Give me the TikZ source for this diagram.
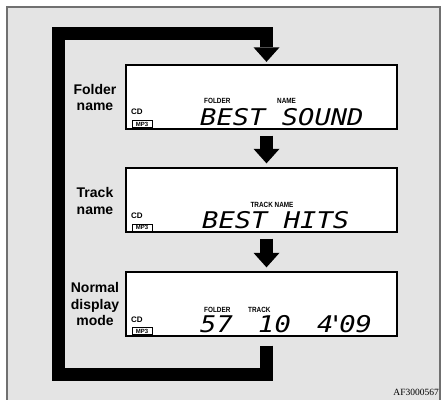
\documentclass[tikz,border=0pt]{standalone}
\usepackage{fontspec}
\setmainfont{Liberation Sans}
\newfontfamily\lcdfont{DejaVu Sans Mono}
\newfontfamily\codefont{Liberation Serif}
\usetikzlibrary{arrows.meta,calc}
\definecolor{bgc}{RGB}{228,228,228}
\definecolor{framec}{RGB}{112,112,112}
\begin{document}
\begin{tikzpicture}[x=1pt,y=-1pt,
  lcdbox/.style={draw=black, line width=1.3pt, fill=white, minimum width=271pt, minimum height=64pt, inner sep=0pt},
  flow/.style={line width=13pt, draw=black, line join=miter, -{Triangle[length=14.5pt,width=26pt,line width=0pt]}},
  modelabel/.style={font=\fontsize{14}{16.8}\selectfont\bfseries, align=center, inner sep=0pt},
  tag/.style={font=\fontsize{7.5}{8}\selectfont\bfseries, inner sep=0pt, anchor=base west},
  cdtag/.style={font=\fontsize{8}{9}\selectfont\bfseries, inner sep=0pt, anchor=base west},
  mpbox/.style={draw=black, line width=0.8pt, fill=white, font=\fontsize{6}{6}\selectfont\bfseries, inner sep=0pt, minimum width=20pt, minimum height=7pt},
  lcd/.style={font=\lcdfont\itshape\fontsize{23}{24}\selectfont, inner sep=0pt, anchor=base west},
]
\useasboundingbox (0,0) rectangle (441,399);
\fill[white] (0,0) rectangle (441,399);
\begin{scope}
  \clip (0,0) rectangle (441,399);
  \draw[framec, line width=1.5pt, fill=bgc] (7,7) rectangle (440,410);
\end{scope}

% display boxes
\node[lcdbox] (b1) at (261.5,97) {};
\node[lcdbox] (b2) at (261.5,200) {};
\node[lcdbox] (b3) at (261.5,304) {};

% helper coordinates
\coordinate (sx) at (266.5,0);
\coordinate (cbr) at (266.5,374);
\coordinate (cbl) at (58,374);
\coordinate (ctl) at (58,33.5);
\coordinate (ctr) at (266.5,33.5);

% arrows
\draw[flow] ($(b1.south -| sx)+(0,6)$) -- ($(b2.north -| sx)+(0,-4)$);
\draw[flow] ($(b2.south -| sx)+(0,6)$) -- ($(b3.north -| sx)+(0,-4)$);
\draw[flow] ($(b3.south -| sx)+(0,9)$) -- (cbr) -- (cbl) -- (ctl) -- (ctr) -- ($(b1.north -| sx)+(0,-2.5)$);

% mode labels
\node[modelabel] (l1) at (95,97.5) {Folder\\name};
\node[modelabel] (l2) at (95,201) {Track\\name};
\node[modelabel] (l3) at (95,304) {Normal\\display\\mode};

% CD / MP3
\node[cdtag] (cd1) at (131,114) {CD};
\node[cdtag] (cd2) at (131,218) {CD};
\node[cdtag] (cd3) at (131,322) {CD};
\node[mpbox] (mp1) at (142,124) {MP3};
\node[mpbox] (mp2) at (142,227.5) {MP3};
\node[mpbox] (mp3) at (142,331) {MP3};

% box 1
\node[tag] (t1a) at (204,103) {\scalebox{0.85}[1]{FOLDER}};
\node[tag] (t1b) at (277,103) {\scalebox{0.85}[1]{NAME}};
\node[lcd] (d1) at (200,125) {\scalebox{1.18}[1]{BEST SOUND}};

% box 2
\node[tag, anchor=base] (t2a) at (272,207) {\scalebox{0.85}[1]{TRACK NAME}};
\node[lcd] (d2) at (202,228) {\scalebox{1.18}[1]{BEST HITS}};

% box 3
\node[tag] (t3a) at (204,312) {\scalebox{0.85}[1]{FOLDER}};
\node[tag] (t3b) at (248,312) {\scalebox{0.85}[1]{TRACK}};
\node[lcd] (d3a) at (200,332) {\scalebox{1.18}[1]{57}};
\node[lcd] (d3b) at (258,332) {\scalebox{1.18}[1]{10}};
\node[lcd] (d3c) at (317,332) {\scalebox{1.18}[1]{4\kern-5pt'\kern-4pt09}};

% code
\node[font=\codefont\fontsize{9.5}{10}\selectfont, anchor=base east, inner sep=0pt] (code) at (439,395) {AF3000567};
\end{tikzpicture}
\end{document}
